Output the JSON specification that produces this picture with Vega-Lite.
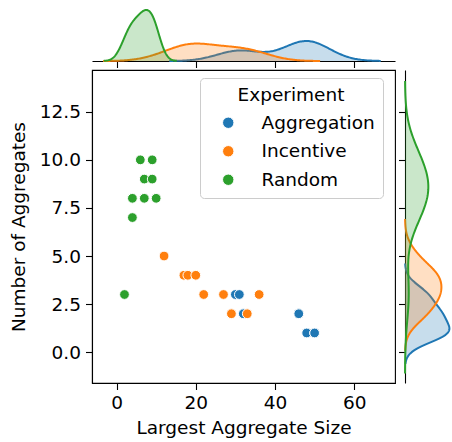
{
  "$schema": "https://vega.github.io/schema/vega-lite/v6.json",
  "padding": {"left": 8, "top": 5, "right": 0, "bottom": 0},
  "datasets": {
    "pts": [
      {"size": 30, "aggregates": 3, "Experiment": "Aggregation"},
      {"size": 31, "aggregates": 3, "Experiment": "Aggregation"},
      {"size": 32, "aggregates": 2, "Experiment": "Aggregation"},
      {"size": 46, "aggregates": 2, "Experiment": "Aggregation"},
      {"size": 46, "aggregates": 2, "Experiment": "Aggregation"},
      {"size": 48, "aggregates": 1, "Experiment": "Aggregation"},
      {"size": 48, "aggregates": 1, "Experiment": "Aggregation"},
      {"size": 50, "aggregates": 1, "Experiment": "Aggregation"},
      {"size": 50, "aggregates": 1, "Experiment": "Aggregation"},
      {"size": 12, "aggregates": 5, "Experiment": "Incentive"},
      {"size": 17, "aggregates": 4, "Experiment": "Incentive"},
      {"size": 18, "aggregates": 4, "Experiment": "Incentive"},
      {"size": 20, "aggregates": 4, "Experiment": "Incentive"},
      {"size": 22, "aggregates": 3, "Experiment": "Incentive"},
      {"size": 27, "aggregates": 3, "Experiment": "Incentive"},
      {"size": 36, "aggregates": 3, "Experiment": "Incentive"},
      {"size": 29, "aggregates": 2, "Experiment": "Incentive"},
      {"size": 33, "aggregates": 2, "Experiment": "Incentive"},
      {"size": 6, "aggregates": 10, "Experiment": "Random"},
      {"size": 9, "aggregates": 10, "Experiment": "Random"},
      {"size": 7, "aggregates": 9, "Experiment": "Random"},
      {"size": 9, "aggregates": 9, "Experiment": "Random"},
      {"size": 4, "aggregates": 8, "Experiment": "Random"},
      {"size": 7, "aggregates": 8, "Experiment": "Random"},
      {"size": 10, "aggregates": 8, "Experiment": "Random"},
      {"size": 4, "aggregates": 7, "Experiment": "Random"},
      {"size": 2, "aggregates": 3, "Experiment": "Random"}
    ]
  },
  "data": {"name": "pts"},
  "columns": 2,
  "bounds": "flush",
  "align": "each",
  "spacing": {"row": 9, "column": 10},
  "resolve": {"legend": {"color": "independent"}},
  "concat": [
    {
      "width": 303,
      "height": 54,
      "layer": [
        {
          "transform": [
            {"filter": {"field": "Experiment", "equal": "Aggregation"}},
            {"density": "size", "groupby": ["Experiment"], "bandwidth": 5.56, "extent": [13.3, 66.7], "counts": true, "steps": 200}
          ],
          "layer": [
            {"mark": {"type": "area", "fillOpacity": 0.25}},
            {"mark": {"type": "line", "strokeWidth": 2}}
          ]
        },
        {
          "transform": [
            {"filter": {"field": "Experiment", "equal": "Incentive"}},
            {"density": "size", "groupby": ["Experiment"], "bandwidth": 5.13, "extent": [-3.39, 51.39], "counts": true, "steps": 200}
          ],
          "layer": [
            {"mark": {"type": "area", "fillOpacity": 0.25}},
            {"mark": {"type": "line", "strokeWidth": 2}}
          ]
        },
        {
          "transform": [
            {"filter": {"field": "Experiment", "equal": "Random"}},
            {"density": "size", "groupby": ["Experiment"], "bandwidth": 1.738, "extent": [-3.21, 15.21], "counts": true, "steps": 200}
          ],
          "layer": [
            {"mark": {"type": "area", "fillOpacity": 0.25}},
            {"mark": {"type": "line", "strokeWidth": 2}}
          ]
        }
      ],
      "encoding": {
        "x": {"field": "value", "type": "quantitative", "scale": {"domain": [-6.2, 70.3], "nice": false, "zero": false},
              "axis": {"values": [0, 20, 40, 60], "labels": false, "title": null, "orient": "bottom"}},
        "y": {"field": "density", "type": "quantitative", "stack": null, "scale": {"domain": [0, 1.12], "nice": false}, "axis": null},
        "color": {"field": "Experiment", "type": "nominal", "scale": {"domain": ["Aggregation", "Incentive", "Random"], "range": ["#1f77b4", "#ff7f0e", "#2ca02c"]}, "legend": null}
      }
    },
    {
      "width": 1,
      "height": 1,
      "data": {"values": []},
      "mark": {"type": "point"},
      "encoding": {}
    },
    {
      "width": 303,
      "height": 313,
      "view": {"stroke": "#000", "strokeWidth": 1.1},
      "mark": {"type": "point", "filled": true, "shape": "circle", "size": 95, "opacity": 1, "stroke": "white", "strokeWidth": 1},
      "encoding": {
        "x": {"field": "size", "type": "quantitative", "scale": {"domain": [-6.2, 70.3], "nice": false, "zero": false},
              "axis": {"values": [0, 20, 40, 60], "title": "Largest Aggregate Size", "labelPadding": 4, "titlePadding": 6, "labelFlush": false}},
        "y": {"field": "aggregates", "type": "quantitative", "scale": {"domain": [-1.6, 14.67], "nice": false, "zero": false},
              "axis": {"values": [0, 2.5, 5, 7.5, 10, 12.5], "format": ".1f", "title": "Number of Aggregates", "titlePadding": 11, "labelFlush": false}},
        "color": {"field": "Experiment", "type": "nominal", "scale": {"domain": ["Aggregation", "Incentive", "Random"], "range": ["#1f77b4", "#ff7f0e", "#2ca02c"]},
                  "legend": {"title": "Experiment", "orient": "none", "legendX": 108, "legendY": 8}}
      }
    },
    {
      "width": 46,
      "height": 313,
      "layer": [
        {
          "transform": [
            {"filter": {"field": "Experiment", "equal": "Aggregation"}},
            {"density": "aggregates", "groupby": ["Experiment"], "bandwidth": 0.537, "extent": [-0.61, 4.61], "counts": true, "steps": 200}
          ],
          "layer": [
            {"mark": {"type": "area", "orient": "horizontal", "fillOpacity": 0.25}},
            {"mark": {"type": "line", "strokeWidth": 2}, "encoding": {"order": {"field": "value", "type": "quantitative"}}}
          ]
        },
        {
          "transform": [
            {"filter": {"field": "Experiment", "equal": "Incentive"}},
            {"density": "aggregates", "groupby": ["Experiment"], "bandwidth": 0.644, "extent": [0.07, 6.93], "counts": true, "steps": 200}
          ],
          "layer": [
            {"mark": {"type": "area", "orient": "horizontal", "fillOpacity": 0.25}},
            {"mark": {"type": "line", "strokeWidth": 2}, "encoding": {"order": {"field": "value", "type": "quantitative"}}}
          ]
        },
        {
          "transform": [
            {"filter": {"field": "Experiment", "equal": "Random"}},
            {"density": "aggregates", "groupby": ["Experiment"], "bandwidth": 1.367, "extent": [-1.1, 14.1], "counts": true, "steps": 200}
          ],
          "layer": [
            {"mark": {"type": "area", "orient": "horizontal", "fillOpacity": 0.25}},
            {"mark": {"type": "line", "strokeWidth": 2}, "encoding": {"order": {"field": "value", "type": "quantitative"}}}
          ]
        }
      ],
      "encoding": {
        "y": {"field": "value", "type": "quantitative", "scale": {"domain": [-1.6, 14.67], "nice": false, "zero": false},
              "axis": {"values": [0, 2.5, 5, 7.5, 10, 12.5], "labels": false, "title": null, "orient": "left"}},
        "x": {"field": "density", "type": "quantitative", "stack": null, "scale": {"domain": [0, 3.64], "nice": false}, "axis": null},
        "color": {"field": "Experiment", "type": "nominal", "scale": {"domain": ["Aggregation", "Incentive", "Random"], "range": ["#1f77b4", "#ff7f0e", "#2ca02c"]}, "legend": null}
      }
    }
  ],
  "config": {
    "view": {"stroke": null},
    "font": "DejaVu Sans",
    "axis": {
      "labelFont": "DejaVu Sans", "titleFont": "DejaVu Sans",
      "labelFontSize": 18.5, "titleFontSize": 18.5, "titleFontWeight": "normal",
      "labelColor": "#000", "titleColor": "#000",
      "domainColor": "#000", "tickColor": "#000", "domainWidth": 1.1, "tickWidth": 1.1, "tickSize": 6.5,
      "grid": false, "labelPadding": 5
    },
    "legend": {
      "titleFont": "DejaVu Sans", "labelFont": "DejaVu Sans",
      "titleFontSize": 18.5, "labelFontSize": 18.5, "titleFontWeight": "normal",
      "titleColor": "#000", "labelColor": "#000",
      "strokeColor": "#cccccc", "fillColor": "rgba(255,255,255,0.8)", "cornerRadius": 4,
      "padding": 8, "symbolType": "circle", "symbolSize": 130, "symbolStrokeColor": "white", "symbolStrokeWidth": 1,
      "symbolOpacity": 1, "symbolOffset": 11, "labelOffset": 24, "rowPadding": 9.5, "titleAnchor": "middle", "titlePadding": 9
    }
  }
}
